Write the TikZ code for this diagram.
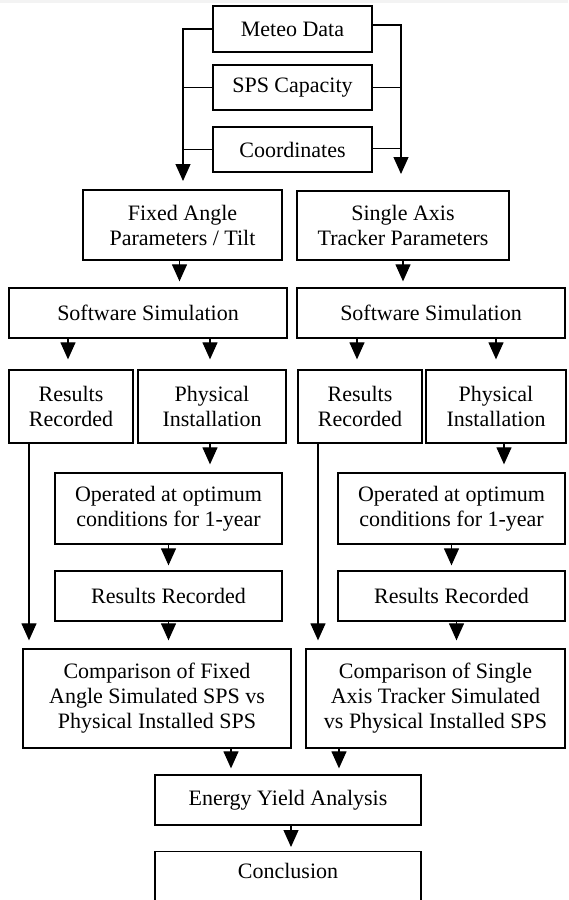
\documentclass[tikz,border=0pt]{standalone}
\usepackage{fontspec}
\setmainfont{Liberation Serif}
\usetikzlibrary{arrows.meta,calc}
\definecolor{stripgray}{HTML}{F3F3F3}
\begin{document}
\begin{tikzpicture}[x=1pt,y=-1pt,
  box/.style={draw=black,line width=1.3pt,inner sep=0pt,align=center,
    font=\fontsize{22}{25}\selectfont},
  arr/.style={line width=1.2pt,-{Triangle[width=15pt,length=17pt]},shorten >=#1},
  arr/.default=6pt,
  link/.style={line width=1.2pt}]
\useasboundingbox (0,0) rectangle (568,900);
\fill[stripgray] (0,0) rectangle (568,3);

% inputs
\node[box,minimum width=159pt,minimum height=46pt] (meteo) at (292.5,29) {Meteo Data};
\node[box,minimum width=159pt,minimum height=45pt] (sps) at (292.5,87.5) {SPS Capacity};
\node[box,minimum width=159pt,minimum height=45pt] (coord) at (292.5,149.5) {Coordinates};

% parameter boxes
\node[box,minimum width=199pt,minimum height=70pt] (fixed) at (182.5,225) {Fixed Angle\\Parameters / Tilt};
\node[box,minimum width=212pt,minimum height=69pt] (single) at (403,225.5) {Single Axis\\Tracker Parameters};

% simulation
\node[box,minimum width=278pt,minimum height=50pt] (sim1) at (148,313) {Software Simulation};
\node[box,minimum width=268pt,minimum height=50pt] (sim2) at (431,313) {Software Simulation};

\node[box,minimum width=124pt,minimum height=73pt] (res1) at (71,406.5) {Results\\Recorded};
\node[box,minimum width=148pt,minimum height=73pt] (phys1) at (212,406.5) {Physical\\Installation};
\node[box,minimum width=124pt,minimum height=73pt] (res2) at (360,406.5) {Results\\Recorded};
\node[box,minimum width=140pt,minimum height=73pt] (phys2) at (496,406.5) {Physical\\Installation};

\node[box,minimum width=227pt,minimum height=71pt] (op1) at (168.5,508.5) {Operated at optimum\\conditions for 1-year};
\node[box,minimum width=227pt,minimum height=71pt] (op2) at (451.5,508.5) {Operated at optimum\\conditions for 1-year};

\node[box,minimum width=227pt,minimum height=50pt] (rr1) at (168.5,596) {Results Recorded};
\node[box,minimum width=227pt,minimum height=50pt] (rr2) at (451.5,596) {Results Recorded};

\node[box,minimum width=268pt,minimum height=99pt] (cmp1) at (157,698.5) {Comparison of Fixed\\Angle Simulated SPS vs\\Physical Installed SPS};
\node[box,minimum width=259pt,minimum height=99pt] (cmp2) at (435.5,698.5) {Comparison of Single\\Axis Tracker Simulated\\vs Physical Installed SPS};

\node[box,minimum width=266pt,minimum height=50pt] (energy) at (288,800) {Energy Yield Analysis};
\node[box,minimum width=266pt,anchor=north,text height=27pt,text depth=70pt] (concl) at (288,851) {Conclusion};

% input trunks
\coordinate (lft) at (183,181);
\coordinate (rgt) at (401,174);
\draw[arr=0pt] (meteo.west) -| (lft);
\draw[arr=0pt] ([yshift=4pt]meteo.east) -| (rgt);
\draw[link] (sps.west) -- (sps.west -| lft);
\draw[link] (sps.east) -- (sps.east -| rgt);
\draw[link] (coord.west) -- (coord.west -| lft);
\draw[link] ([yshift=1pt]coord.east) -- ([yshift=1pt]coord.east -| rgt);

% flow arrows
\draw[arr] ([xshift=-3pt]fixed.south) -- ([xshift=-3pt]fixed.south |- sim1.north);
\draw[arr] (single.south) -- (single.south |- sim2.north);
\draw[arr=10pt] ([xshift=-3pt]res1.north |- sim1.south) -- ([xshift=-3pt]res1.north);
\draw[arr=10pt] ([xshift=-2pt]phys1.north |- sim1.south) -- ([xshift=-2pt]phys1.north);
\draw[arr=10pt] ([xshift=-3pt]res2.north |- sim2.south) -- ([xshift=-3pt]res2.north);
\draw[arr=10pt] (phys2.north |- sim2.south) -- (phys2.north);

\draw[arr=8pt] ([xshift=-2pt]phys1.south) -- ([xshift=-2pt]phys1.south |- op1.north);
\draw[arr=8pt] ([xshift=8pt]phys2.south) -- ([xshift=8pt]phys2.south |- op2.north);
\draw[arr=5pt] (op1.south) -- (rr1.north);
\draw[arr=5pt] (op2.south) -- (rr2.north);
\draw[arr=8pt] (rr1.south) -- (rr1.south |- cmp1.north);
\draw[arr=8pt] ([xshift=5pt]rr2.south) -- ([xshift=5pt]rr2.south |- cmp2.north);
\draw[arr=8pt] ([xshift=-42pt]res1.south) -- ([xshift=-42pt]res1.south |- cmp1.north);
\draw[arr=8pt] ([xshift=-42pt]res2.south) -- ([xshift=-42pt]res2.south |- cmp2.north);

\draw[arr] (cmp1.south -| 231,0) -- (energy.north -| 231,0);
\draw[arr] (cmp2.south -| 339,0) -- (energy.north -| 339,0);
\draw[arr=4pt] ([xshift=3pt]energy.south) -- ([xshift=3pt]concl.north);
\end{tikzpicture}
\end{document}
